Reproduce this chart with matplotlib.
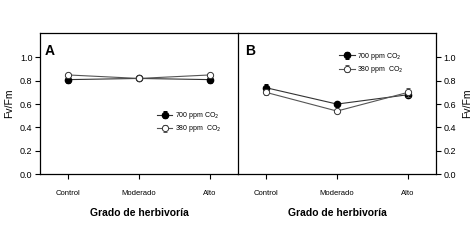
import numpy as np
import matplotlib
matplotlib.use("Agg")
import matplotlib.pyplot as plt

plt.rcParams['font.family'] = ['Liberation Sans', 'DejaVu Sans']

categories = ['Control', 'Moderado', 'Alto']
series_labels = ['700 ppm CO$_2$', '380 ppm  CO$_2$']

# panel A
a_700 = [0.81, 0.82, 0.81]
a_700_err = [0.03, 0.02, 0.03]
a_380 = [0.85, 0.82, 0.85]
a_380_err = [0.02, 0.02, 0.02]

# panel B
b_700 = [0.74, 0.60, 0.68]
b_700_err = [0.03, 0.02, 0.02]
b_380 = [0.70, 0.54, 0.70]
b_380_err = [0.02, 0.02, 0.04]

W, H = 477, 242
fig = plt.figure(figsize=(W / 100, H / 100), dpi=100)


def px_axes(x0, y0, x1, y1):
    return fig.add_axes([x0 / W, 1 - y1 / H, (x1 - x0) / W, (y1 - y0) / H])


axA = px_axes(40, 33, 238, 174)
axB = px_axes(238, 33, 436, 174)

x = np.arange(len(categories))


def draw(ax, v700, e700, v380, e380):
    ax.errorbar(x, v700, yerr=e700, color='#333333', lw=0.8, marker='o',
                ms=4.5, mfc='black', mec='black', ecolor='black',
                elinewidth=0.7, capsize=1.5, capthick=0.7, label=series_labels[0], zorder=3)
    ax.errorbar(x, v380, yerr=e380, color='#555555', lw=0.8, marker='o',
                ms=4.5, mfc='white', mec='#333333', mew=0.7, ecolor='#555555',
                elinewidth=0.7, capsize=1.5, capthick=0.7, label=series_labels[1], zorder=4)
    ax.set_xlim(-0.4, 2.4)
    ax.set_ylim(0, 1.21)
    ax.set_yticks([0.0, 0.2, 0.4, 0.6, 0.8, 1.0])
    ax.set_yticklabels(['0.0', '0.2', '0.4', '0.6', '0.8', '1.0'], fontsize=6.5)
    ax.set_xticks(x)
    ax.set_xticklabels(categories, fontsize=5.5)
    ax.tick_params(direction='out', length=3.5, width=0.8, pad=8)
    ax.tick_params(axis='y', pad=2)
    for s in ax.spines.values():
        s.set_linewidth(0.9)
    ax.set_xlabel('Grado de herbivoría', fontsize=7.5, fontweight='bold', labelpad=8)
    ax.set_ylabel('Fv/Fm', fontsize=7.5)


draw(axA, a_700, a_700_err, a_380, a_380_err)
draw(axB, b_700, b_700_err, b_380, b_380_err)

# single divider line between the panels
axA.spines['right'].set_visible(False)
axB.yaxis.tick_right()
axB.yaxis.set_label_position('right')
axB.set_ylabel('Fv/Fm', fontsize=7.5, rotation=90, labelpad=4)
axB.tick_params(axis='y', left=False)

axA.text(0.025, 0.92, 'A', transform=axA.transAxes, fontsize=10,
         fontweight='bold', va='top', ha='left')
axB.text(0.035, 0.92, 'B', transform=axB.transAxes, fontsize=10,
         fontweight='bold', va='top', ha='left')

axA.legend(loc='center left', bbox_to_anchor=(0.56, 0.367), frameon=False,
           fontsize=5, handlelength=2.2, handletextpad=0.4, labelspacing=0.35)
axB.legend(loc='upper left', bbox_to_anchor=(0.48, 0.92), frameon=False,
           fontsize=5, handlelength=2.2, handletextpad=0.4, labelspacing=0.35)

fig.savefig('out.png', dpi=100)
